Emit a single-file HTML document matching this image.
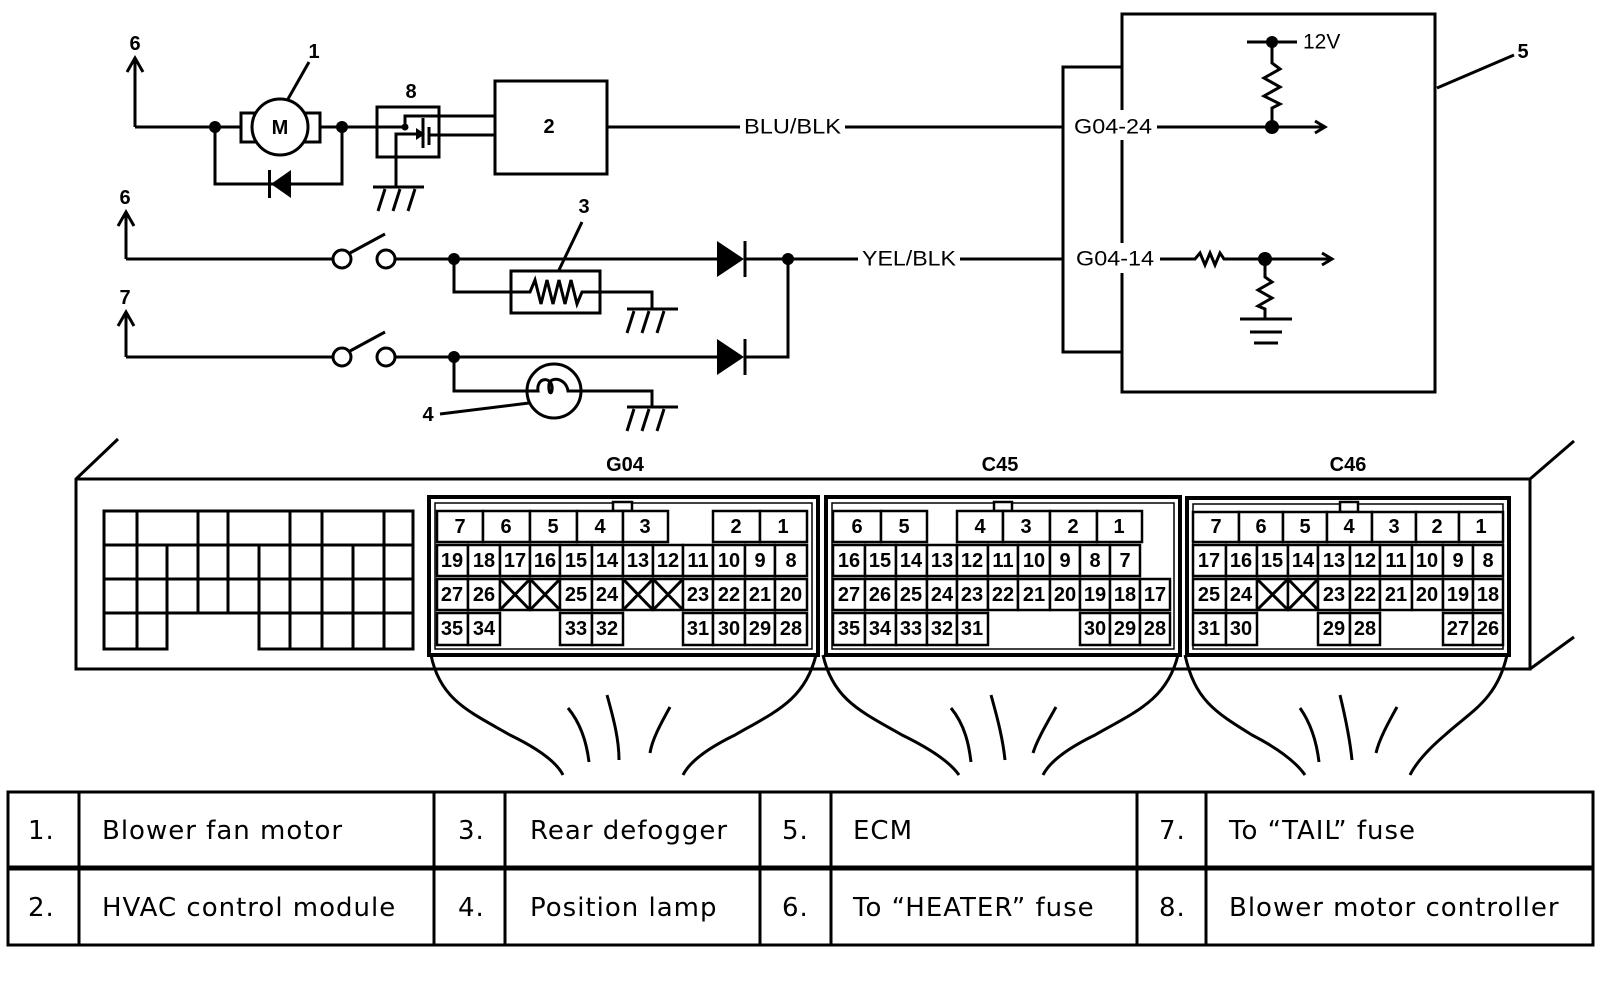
<!DOCTYPE html>
<html><head><meta charset="utf-8"><style>
html,body{margin:0;padding:0;background:#fff}
svg{display:block}
.l{stroke:#000;stroke-width:3;fill:none}
.c{stroke:#000;stroke-width:2.5;fill:#fff}
.n{font-family:"Liberation Sans",sans-serif;font-weight:bold;font-size:20px;text-anchor:middle;dominant-baseline:central}
.b{font-family:"Liberation Sans",sans-serif;font-weight:bold;font-size:20px;text-anchor:middle;dominant-baseline:central}
.w{font-family:"Liberation Sans",sans-serif;font-size:21px;dominant-baseline:central}
.t{font-family:"DejaVu Sans",sans-serif;font-size:26px;letter-spacing:1px;dominant-baseline:central}
</style></head><body>
<svg width="1600" height="1002" viewBox="0 0 1600 1002" xmlns="http://www.w3.org/2000/svg">
<rect width="1600" height="1002" fill="#fff"/>
<g class="l">
<path d="M135,127V58M127,72L135,58L143,72"/>
<path d="M135,127H241M320,127H377"/>
<rect x="241" y="113" width="79" height="29"/>
<circle cx="280" cy="127" r="28" fill="#fff"/>
<path d="M215,127V184H342V127"/>
<path d="M309,62L288,99"/>
<rect x="377" y="107" width="62" height="50"/>
<path d="M377,127H405V116H495"/>
<path d="M423,118V148M429,127V145M429,135H495"/>
<path d="M396,187V134H416"/>
<path d="M373,187H424M385,189L378,211M400,189L393,211M415,189L408,211"/>
<rect x="495" y="81" width="112" height="93"/>
<path d="M607,127H740M845,127H1063"/>
</g>
<polygon points="416,128 425,134 416,140" fill="#000"/>
<circle cx="405" cy="127" r="3.5" fill="#000"/>
<circle cx="215" cy="127" r="6" fill="#000"/>
<circle cx="342" cy="127" r="6" fill="#000"/>
<rect x="268" y="170" width="3" height="28" fill="#000"/>
<polygon points="271,184 291,170 291,198" fill="#000"/>
<text class="b" x="280" y="128" font-size="24">M</text>
<text class="b" x="135" y="44">6</text>
<text class="b" x="314" y="52">1</text>
<text class="b" x="411" y="92">8</text>
<text class="b" x="549" y="127" font-size="22">2</text>
<text class="w" x="744" y="127" textLength="97" lengthAdjust="spacingAndGlyphs">BLU/BLK</text>
<g class="l">
<path d="M126,259V212M118,226L126,212L134,226"/>
<path d="M126,259H333M395,259H717M745,259H858M960,259H1063"/>
<circle cx="342" cy="259" r="9" fill="#fff"/>
<circle cx="386" cy="259" r="9" fill="#fff"/>
<path d="M350,253L385,234"/>
<path d="M454,259V292H511M600,292H652V309"/>
<rect x="511" y="271" width="89" height="42"/>
<path d="M511,292H530L535,280L541,304L547,280L553,304L559,280L565,304L571,280L577,304L582,292H600"/>
<path d="M627,309H678M634,311L627,333M649,311L642,333M664,311L657,333"/>
<path d="M582,222L559,270"/>
<path d="M126,357V312M118,326L126,312L134,326"/>
<path d="M126,357H333M395,357H717M745,357H788V259"/>
<circle cx="342" cy="357" r="9" fill="#fff"/>
<circle cx="386" cy="357" r="9" fill="#fff"/>
<path d="M350,351L385,332"/>
<path d="M454,357V391H527M581,391H652V407"/>
<circle cx="554" cy="391" r="27" fill="#fff"/>
<path d="M527,391H538C536,378 550,376 552,386C553,395 548,396 549,384C551,376 566,378 568,391H581"/>
<path d="M627,407H678M634,409L627,431M649,409L642,431M664,409L657,431"/>
<path d="M440,414L529,403"/>
<path d="M745,241V277M745,339V375" stroke-width="3"/>
</g>
<polygon points="717,241 744,259 717,277" fill="#000"/>
<polygon points="717,339 744,357 717,375" fill="#000"/>
<circle cx="454" cy="259" r="6" fill="#000"/>
<circle cx="454" cy="357" r="6" fill="#000"/>
<circle cx="788" cy="259" r="6" fill="#000"/>
<text class="b" x="125" y="198">6</text>
<text class="b" x="584" y="207">3</text>
<text class="b" x="125" y="298">7</text>
<text class="b" x="428" y="415">4</text>
<text class="w" x="862" y="259" textLength="94" lengthAdjust="spacingAndGlyphs">YEL/BLK</text>
<g class="l" stroke-width="4">
<path d="M1122,110V14H1435V392H1122V273M1122,243V140"/>
<path d="M1122,67H1063V352H1122"/>
</g>
<g class="l">
<path d="M1157,127H1323M1315,121L1325,127L1315,133"/>
<path d="M1247,42H1297M1272,42V63L1280,69L1264,78L1280,87L1264,96L1280,104L1272,108V127"/>
<path d="M1160,259H1195L1200,253L1205,265L1210,253L1215,265L1220,253L1224,259H1330M1322,253L1332,259L1322,265"/>
<path d="M1265,259V277L1272,282L1258,290L1272,298L1258,306L1265,309V319M1240,319H1292M1250,332H1282M1254,343H1278"/>
<path d="M1437,88L1514,55"/>
</g>
<circle cx="1272" cy="42" r="6" fill="#000"/>
<circle cx="1272" cy="127" r="7" fill="#000"/>
<circle cx="1265" cy="259" r="7" fill="#000"/>
<text class="w" x="1074" y="127" textLength="78" lengthAdjust="spacingAndGlyphs">G04-24</text>
<text class="w" x="1076" y="259" textLength="78" lengthAdjust="spacingAndGlyphs">G04-14</text>
<text class="w" x="1303" y="42">12V</text>
<text class="b" x="1523" y="52">5</text>
<g class="l" stroke-width="4">
<path d="M118,439L76,479V669H1530V479H76M1530,479L1574,441M1530,669L1574,637"/>
</g>
<g class="l" stroke-width="3">
<path d="M104,511H413V649H259V613H167V649H104Z"/>
<path d="M104,545H413M104,579H413M104,613H413"/>
<path d="M137,511V649M198,511V613M228,511V613M290,511V649M322,511V649M384,511V649M167,545V613M259,545V613M353,545V649"/>
</g>
<text class="b" x="625" y="465">G04</text>
<text class="b" x="1000" y="465">C45</text>
<text class="b" x="1348" y="465">C46</text>
<g class="l">
<rect x="429" y="497" width="389" height="158" stroke-width="4"/>
<rect x="435" y="503" width="377" height="146" stroke-width="1.5"/>
<rect x="826" y="497" width="354" height="158" stroke-width="4"/>
<rect x="832" y="503" width="342" height="146" stroke-width="1.5"/>
<rect x="1187" y="498" width="322" height="157" stroke-width="4"/>
<rect x="1193" y="504" width="310" height="145" stroke-width="1.5"/>
<rect x="613" y="502" width="19" height="9" stroke-width="2.5" fill="#fff"/>
<rect x="994" y="502" width="18" height="9" stroke-width="2.5" fill="#fff"/>
<rect x="1340" y="502" width="18" height="10" stroke-width="2.5" fill="#fff"/>
</g>
<g>
<rect class="c" x="437" y="511" width="46" height="31"/><rect class="c" x="483" y="511" width="47" height="31"/><rect class="c" x="530" y="511" width="47" height="31"/><rect class="c" x="577" y="511" width="46" height="31"/><rect class="c" x="623" y="511" width="45" height="31"/><rect class="c" x="713" y="511" width="47" height="31"/><rect class="c" x="760" y="511" width="47" height="31"/>
<text class="n" x="460" y="527">7</text><text class="n" x="506" y="527">6</text><text class="n" x="553" y="527">5</text><text class="n" x="600" y="527">4</text><text class="n" x="645" y="527">3</text><text class="n" x="736" y="527">2</text><text class="n" x="783" y="527">1</text>
<rect class="c" x="437" y="545" width="31" height="31"/><rect class="c" x="468" y="545" width="32" height="31"/><rect class="c" x="500" y="545" width="30" height="31"/><rect class="c" x="530" y="545" width="30" height="31"/><rect class="c" x="560" y="545" width="32" height="31"/><rect class="c" x="592" y="545" width="31" height="31"/><rect class="c" x="623" y="545" width="30" height="31"/><rect class="c" x="653" y="545" width="30" height="31"/><rect class="c" x="683" y="545" width="30" height="31"/><rect class="c" x="713" y="545" width="32" height="31"/><rect class="c" x="745" y="545" width="30" height="31"/><rect class="c" x="775" y="545" width="32" height="31"/>
<text class="n" x="452" y="561">19</text><text class="n" x="484" y="561">18</text><text class="n" x="515" y="561">17</text><text class="n" x="545" y="561">16</text><text class="n" x="576" y="561">15</text><text class="n" x="607" y="561">14</text><text class="n" x="638" y="561">13</text><text class="n" x="668" y="561">12</text><text class="n" x="698" y="561">11</text><text class="n" x="729" y="561">10</text><text class="n" x="760" y="561">9</text><text class="n" x="791" y="561">8</text>
<rect class="c" x="437" y="579" width="31" height="31"/><rect class="c" x="468" y="579" width="32" height="31"/><rect class="c" x="500" y="579" width="30" height="31"/><rect class="c" x="530" y="579" width="30" height="31"/><rect class="c" x="560" y="579" width="32" height="31"/><rect class="c" x="592" y="579" width="31" height="31"/><rect class="c" x="623" y="579" width="30" height="31"/><rect class="c" x="653" y="579" width="30" height="31"/><rect class="c" x="683" y="579" width="30" height="31"/><rect class="c" x="713" y="579" width="32" height="31"/><rect class="c" x="745" y="579" width="30" height="31"/><rect class="c" x="775" y="579" width="32" height="31"/>
<path class="l" d="M500,579L530,610M530,579L500,610M530,579L560,610M560,579L530,610M623,579L653,610M653,579L623,610M653,579L683,610M683,579L653,610" stroke-width="2"/>
<text class="n" x="452" y="595">27</text><text class="n" x="484" y="595">26</text><text class="n" x="576" y="595">25</text><text class="n" x="607" y="595">24</text><text class="n" x="698" y="595">23</text><text class="n" x="729" y="595">22</text><text class="n" x="760" y="595">21</text><text class="n" x="791" y="595">20</text>
<rect class="c" x="437" y="613" width="31" height="32"/><rect class="c" x="468" y="613" width="32" height="32"/><rect class="c" x="560" y="613" width="32" height="32"/><rect class="c" x="592" y="613" width="31" height="32"/><rect class="c" x="683" y="613" width="30" height="32"/><rect class="c" x="713" y="613" width="32" height="32"/><rect class="c" x="745" y="613" width="30" height="32"/><rect class="c" x="775" y="613" width="32" height="32"/>
<text class="n" x="452" y="629">35</text><text class="n" x="484" y="629">34</text><text class="n" x="576" y="629">33</text><text class="n" x="607" y="629">32</text><text class="n" x="698" y="629">31</text><text class="n" x="729" y="629">30</text><text class="n" x="760" y="629">29</text><text class="n" x="791" y="629">28</text>
</g>
<g>
<rect class="c" x="833" y="511" width="48" height="31"/><rect class="c" x="881" y="511" width="46" height="31"/><rect class="c" x="957" y="511" width="46" height="31"/><rect class="c" x="1003" y="511" width="47" height="31"/><rect class="c" x="1050" y="511" width="47" height="31"/><rect class="c" x="1097" y="511" width="45" height="31"/>
<text class="n" x="857" y="527">6</text><text class="n" x="904" y="527">5</text><text class="n" x="980" y="527">4</text><text class="n" x="1026" y="527">3</text><text class="n" x="1073" y="527">2</text><text class="n" x="1119" y="527">1</text>
<rect class="c" x="833" y="545" width="32" height="31"/><rect class="c" x="865" y="545" width="31" height="31"/><rect class="c" x="896" y="545" width="31" height="31"/><rect class="c" x="927" y="545" width="30" height="31"/><rect class="c" x="957" y="545" width="31" height="31"/><rect class="c" x="988" y="545" width="30" height="31"/><rect class="c" x="1018" y="545" width="32" height="31"/><rect class="c" x="1050" y="545" width="30" height="31"/><rect class="c" x="1080" y="545" width="30" height="31"/><rect class="c" x="1110" y="545" width="30" height="31"/>
<text class="n" x="849" y="561">16</text><text class="n" x="880" y="561">15</text><text class="n" x="911" y="561">14</text><text class="n" x="942" y="561">13</text><text class="n" x="972" y="561">12</text><text class="n" x="1003" y="561">11</text><text class="n" x="1034" y="561">10</text><text class="n" x="1065" y="561">9</text><text class="n" x="1095" y="561">8</text><text class="n" x="1125" y="561">7</text>
<rect class="c" x="833" y="579" width="32" height="31"/><rect class="c" x="865" y="579" width="31" height="31"/><rect class="c" x="896" y="579" width="31" height="31"/><rect class="c" x="927" y="579" width="30" height="31"/><rect class="c" x="957" y="579" width="31" height="31"/><rect class="c" x="988" y="579" width="30" height="31"/><rect class="c" x="1018" y="579" width="32" height="31"/><rect class="c" x="1050" y="579" width="30" height="31"/><rect class="c" x="1080" y="579" width="30" height="31"/><rect class="c" x="1110" y="579" width="30" height="31"/><rect class="c" x="1140" y="579" width="30" height="31"/>
<text class="n" x="849" y="595">27</text><text class="n" x="880" y="595">26</text><text class="n" x="911" y="595">25</text><text class="n" x="942" y="595">24</text><text class="n" x="972" y="595">23</text><text class="n" x="1003" y="595">22</text><text class="n" x="1034" y="595">21</text><text class="n" x="1065" y="595">20</text><text class="n" x="1095" y="595">19</text><text class="n" x="1125" y="595">18</text><text class="n" x="1155" y="595">17</text>
<rect class="c" x="833" y="613" width="32" height="32"/><rect class="c" x="865" y="613" width="31" height="32"/><rect class="c" x="896" y="613" width="31" height="32"/><rect class="c" x="927" y="613" width="30" height="32"/><rect class="c" x="957" y="613" width="31" height="32"/><rect class="c" x="1080" y="613" width="30" height="32"/><rect class="c" x="1110" y="613" width="30" height="32"/><rect class="c" x="1140" y="613" width="30" height="32"/>
<text class="n" x="849" y="629">35</text><text class="n" x="880" y="629">34</text><text class="n" x="911" y="629">33</text><text class="n" x="942" y="629">32</text><text class="n" x="972" y="629">31</text><text class="n" x="1095" y="629">30</text><text class="n" x="1125" y="629">29</text><text class="n" x="1155" y="629">28</text>
</g>
<g>
<rect class="c" x="1193" y="512" width="46" height="30"/><rect class="c" x="1239" y="512" width="44" height="30"/><rect class="c" x="1283" y="512" width="44" height="30"/><rect class="c" x="1327" y="512" width="45" height="30"/><rect class="c" x="1372" y="512" width="44" height="30"/><rect class="c" x="1416" y="512" width="43" height="30"/><rect class="c" x="1459" y="512" width="44" height="30"/>
<text class="n" x="1216" y="527">7</text><text class="n" x="1261" y="527">6</text><text class="n" x="1305" y="527">5</text><text class="n" x="1349" y="527">4</text><text class="n" x="1394" y="527">3</text><text class="n" x="1437" y="527">2</text><text class="n" x="1481" y="527">1</text>
<rect class="c" x="1193" y="545" width="33" height="31"/><rect class="c" x="1226" y="545" width="31" height="31"/><rect class="c" x="1257" y="545" width="31" height="31"/><rect class="c" x="1288" y="545" width="30" height="31"/><rect class="c" x="1318" y="545" width="32" height="31"/><rect class="c" x="1350" y="545" width="30" height="31"/><rect class="c" x="1380" y="545" width="32" height="31"/><rect class="c" x="1412" y="545" width="31" height="31"/><rect class="c" x="1443" y="545" width="30" height="31"/><rect class="c" x="1473" y="545" width="30" height="31"/>
<text class="n" x="1209" y="561">17</text><text class="n" x="1241" y="561">16</text><text class="n" x="1272" y="561">15</text><text class="n" x="1303" y="561">14</text><text class="n" x="1334" y="561">13</text><text class="n" x="1365" y="561">12</text><text class="n" x="1396" y="561">11</text><text class="n" x="1427" y="561">10</text><text class="n" x="1458" y="561">9</text><text class="n" x="1488" y="561">8</text>
<rect class="c" x="1193" y="579" width="33" height="31"/><rect class="c" x="1226" y="579" width="31" height="31"/><rect class="c" x="1257" y="579" width="31" height="31"/><rect class="c" x="1288" y="579" width="30" height="31"/><rect class="c" x="1318" y="579" width="32" height="31"/><rect class="c" x="1350" y="579" width="30" height="31"/><rect class="c" x="1380" y="579" width="32" height="31"/><rect class="c" x="1412" y="579" width="31" height="31"/><rect class="c" x="1443" y="579" width="30" height="31"/><rect class="c" x="1473" y="579" width="30" height="31"/>
<path class="l" d="M1257,579L1288,610M1288,579L1257,610M1288,579L1318,610M1318,579L1288,610" stroke-width="2"/>
<text class="n" x="1209" y="595">25</text><text class="n" x="1241" y="595">24</text><text class="n" x="1334" y="595">23</text><text class="n" x="1365" y="595">22</text><text class="n" x="1396" y="595">21</text><text class="n" x="1427" y="595">20</text><text class="n" x="1458" y="595">19</text><text class="n" x="1488" y="595">18</text>
<rect class="c" x="1193" y="613" width="33" height="32"/><rect class="c" x="1226" y="613" width="31" height="32"/><rect class="c" x="1318" y="613" width="32" height="32"/><rect class="c" x="1350" y="613" width="30" height="32"/><rect class="c" x="1443" y="613" width="30" height="32"/><rect class="c" x="1473" y="613" width="30" height="32"/>
<text class="n" x="1209" y="629">31</text><text class="n" x="1241" y="629">30</text><text class="n" x="1334" y="629">29</text><text class="n" x="1365" y="629">28</text><text class="n" x="1458" y="629">27</text><text class="n" x="1488" y="629">26</text>
</g>
<g class="l" stroke-width="2.5">
<path d="M431,655C440,700 470,712 510,735C545,752 558,765 563,775"/>
<path d="M816,655C805,700 775,712 735,735C700,752 688,765 683,775"/>
<path d="M568,708C582,725 587,745 589,762M607,695C614,720 619,740 619,760M670,707C660,725 652,740 650,753"/>
<path d="M823,655C833,700 862,712 902,735C937,752 952,765 959,775"/>
<path d="M1178,655C1167,700 1135,712 1095,735C1060,752 1048,765 1043,775"/>
<path d="M951,708C965,725 969,745 971,762M991,695C998,720 1003,740 1005,760M1056,707C1046,725 1037,740 1033,753"/>
<path d="M1185,655C1195,700 1215,712 1252,735C1285,752 1298,765 1305,775"/>
<path d="M1507,655C1497,700 1470,712 1445,735C1425,752 1415,765 1410,775"/>
<path d="M1300,708C1312,725 1317,745 1319,762M1340,695C1346,720 1350,740 1352,760M1397,707C1387,725 1379,740 1376,753"/>
</g>
<g class="l" stroke-width="4">
<rect x="8" y="792" width="1585" height="153"/>
<path d="M8,868H1593" stroke-width="5"/>
<path d="M79,792V945M434,792V945M505,792V945M760,792V945M831,792V945M1137,792V945M1206,792V945"/>
</g>
<g class="t">
<text x="28" y="831">1.</text><text x="102" y="831">Blower fan motor</text>
<text x="458" y="831">3.</text><text x="530" y="831">Rear defogger</text>
<text x="782" y="831">5.</text><text x="853" y="831">ECM</text>
<text x="1159" y="831">7.</text><text x="1229" y="831">To “TAIL” fuse</text>
<text x="28" y="908">2.</text><text x="102" y="908">HVAC control module</text>
<text x="458" y="908">4.</text><text x="530" y="908">Position lamp</text>
<text x="782" y="908">6.</text><text x="853" y="908">To “HEATER” fuse</text>
<text x="1159" y="908">8.</text><text x="1229" y="908">Blower motor controller</text>
</g>
</svg>
</body></html>
